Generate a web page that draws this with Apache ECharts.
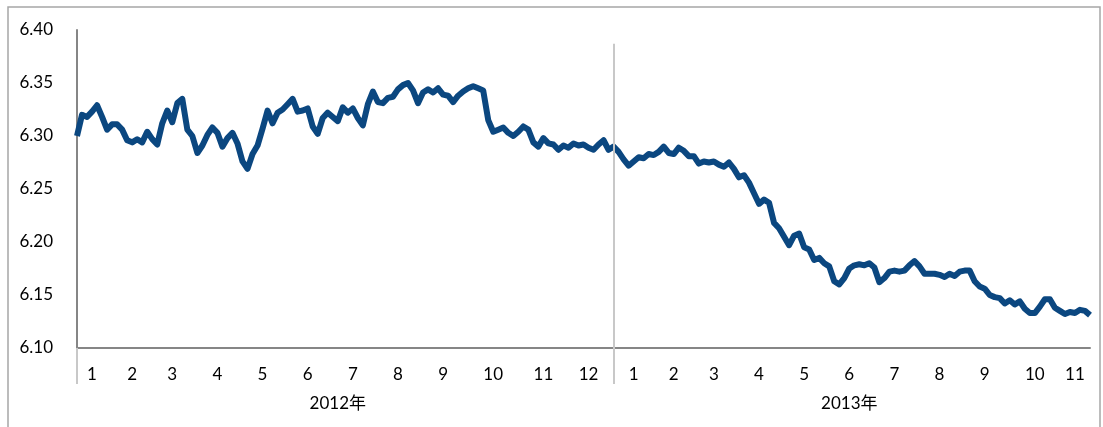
<!DOCTYPE html>
<html>
<head>
<meta charset="utf-8">
<script src="https://cdn.jsdelivr.net/npm/echarts@6/dist/echarts.min.js"></script>
<style>
  html, body { margin: 0; padding: 0; background: #fff; }
  #chart { width: 1103px; height: 427px; }
</style>
</head>
<body>
<div id="chart"></div>
<script>
  // USD/CNY central parity, 2012 - Nov 2013
  var years = ['2012年', '2013年'];
  var months2012 = ['1', '2', '3', '4', '5', '6', '7', '8', '9', '10', '11', '12'];
  var months2013 = ['1', '2', '3', '4', '5', '6', '7', '8', '9', '10', '11'];
  // points kept for each month
  var points2012 = [7, 8, 9, 9, 9, 9, 9, 9, 9, 10, 10, 9];
  var points2013 = [8, 8, 9, 9, 9, 9, 9, 9, 9, 10, 7];

  var rates2012 = [
    6.300, 6.320, 6.318, 6.323, 6.329, 6.318, 6.306,
    6.311, 6.311, 6.306, 6.296, 6.294, 6.297, 6.294, 6.304,
    6.297, 6.292, 6.312, 6.324, 6.313, 6.331, 6.335, 6.306, 6.300,
    6.284, 6.291, 6.301, 6.308, 6.303, 6.290, 6.298, 6.303, 6.293,
    6.276, 6.269, 6.283, 6.291, 6.307, 6.324, 6.312, 6.322, 6.325,
    6.330, 6.335, 6.323, 6.324, 6.326, 6.309, 6.302, 6.317, 6.322,
    6.318, 6.314, 6.327, 6.322, 6.326, 6.317, 6.310, 6.330, 6.342,
    6.332, 6.331, 6.336, 6.337, 6.344, 6.348, 6.350, 6.343, 6.331,
    6.341, 6.344, 6.341, 6.345, 6.339, 6.338, 6.332, 6.338, 6.342,
    6.345, 6.347, 6.345, 6.343, 6.315, 6.304, 6.306, 6.308, 6.303, 6.300,
    6.304, 6.309, 6.306, 6.294, 6.290, 6.298, 6.293, 6.292, 6.287, 6.291,
    6.289, 6.293, 6.291, 6.292, 6.289, 6.287, 6.292, 6.296, 6.287
  ];
  var rates2013 = [
    6.290, 6.285, 6.278, 6.272, 6.276, 6.280, 6.279, 6.283,
    6.282, 6.285, 6.290, 6.284, 6.283, 6.289, 6.286, 6.281,
    6.281, 6.274, 6.276, 6.275, 6.276, 6.273, 6.271, 6.275, 6.269,
    6.261, 6.263, 6.256, 6.246, 6.236, 6.240, 6.237, 6.218, 6.213,
    6.205, 6.197, 6.206, 6.208, 6.195, 6.193, 6.183, 6.185, 6.180,
    6.177, 6.163, 6.160, 6.166, 6.175, 6.178, 6.179, 6.178, 6.180,
    6.176, 6.162, 6.166, 6.172, 6.173, 6.172, 6.173, 6.178, 6.182,
    6.177, 6.170, 6.170, 6.170, 6.169, 6.167, 6.170, 6.168, 6.172,
    6.173, 6.173, 6.163, 6.158, 6.156, 6.150, 6.148, 6.147, 6.142,
    6.145, 6.141, 6.144, 6.137, 6.133, 6.133, 6.139, 6.146, 6.146, 6.138,
    6.135, 6.132, 6.134, 6.133, 6.136, 6.135, 6.131
  ];

  var yMin = 6.10, yMax = 6.40, yStep = 0.05;

  var font = 'Lato, "Noto Sans CJK SC", sans-serif';
  var categories = [], values = [], monthAt = {}, yearAt = {}, yearStart = [];

  function addYear(year, months, counts, rates) {
    var k = 0, start = categories.length;
    yearStart.push(start);
    months.forEach(function (m, i) {
      monthAt[categories.length + Math.floor(counts[i] / 2)] = m;
      for (var d = 0; d < counts[i]; d++) {
        categories.push(year + '-' + m + '-' + d);
        values.push(rates[k++]);
      }
    });
    yearAt[start + Math.floor(rates.length / 2) - 1] = year;
  }
  addYear(years[0], months2012, points2012, rates2012);
  addYear(years[1], months2013, points2013, rates2013);

  var sepCat = categories[yearStart[1]];
  var chart = echarts.init(document.getElementById('chart'));
  chart.setOption({
    animation: false,
    grid: {left: 77, right: 13, top: 30, bottom: 79},
    graphic: [{
      type: 'rect',
      shape: {x: 8, y: 7, width: 1092, height: 440},
      style: {fill: 'none', stroke: '#a6a6a6', lineWidth: 1.5},
      silent: true
    }],
    xAxis: [{
      type: 'category',
      data: categories,
      boundaryGap: false,
      axisLine: {lineStyle: {color: '#868686', width: 2}},
      axisTick: {show: false},
      splitLine: {show: false},
      axisLabel: {
        interval: function (i) { return monthAt[i] !== undefined; },
        formatter: function (v, i) { return monthAt[i]; },
        color: '#000', fontSize: 17, fontFamily: font, margin: 18
      }
    }, {
      type: 'category',
      data: categories,
      boundaryGap: false,
      position: 'bottom',
      axisLine: {show: false},
      axisTick: {
        show: true,
        interval: function (i) { return yearStart.indexOf(i) >= 0; },
        length: 36,
        lineStyle: {color: '#c8c8c8', width: 2}
      },
      splitLine: {show: false},
      axisLabel: {
        interval: function (i) { return yearAt[i] !== undefined; },
        formatter: function (v, i) { return yearAt[i]; },
        color: '#000', fontSize: 17, fontFamily: font, margin: 47
      }
    }],
    yAxis: {
      type: 'value',
      min: yMin,
      max: yMax,
      interval: yStep,
      axisLine: {show: true, lineStyle: {color: '#868686', width: 2}},
      axisTick: {show: false},
      splitLine: {show: false},
      axisLabel: {
        formatter: function (v) { return v.toFixed(2); },
        color: '#000', fontSize: 17, fontFamily: font, margin: 24
      }
    },
    series: [{
      type: 'line',
      data: values,
      showSymbol: false,
      lineStyle: {color: '#0b4780', width: 6, join: 'round'},
      markLine: {
        silent: true,
        symbol: 'none',
        label: {show: false},
        lineStyle: {color: '#c8c8c8', width: 2, type: 'solid'},
        data: [[{coord: [sepCat, 6.387]}, {coord: [sepCat, yMin]}]]
      }
    }]
  });
</script>
</body>
</html>
